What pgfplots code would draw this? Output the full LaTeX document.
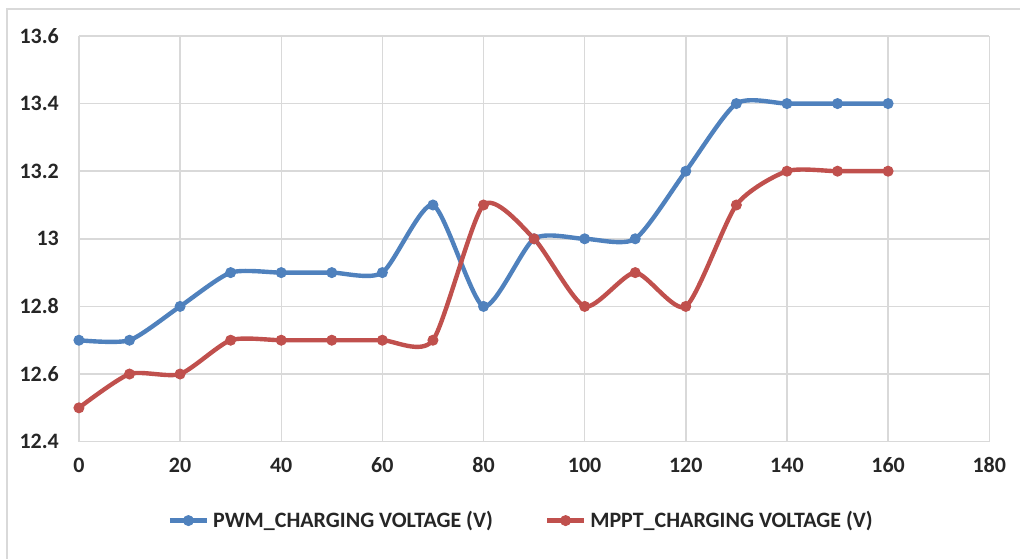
\documentclass[border=0pt]{standalone}
\usepackage{pgfplots}
\pgfplotsset{compat=1.18}
\usepackage{fontspec}
\setmainfont{Carlito}
\definecolor{pwm}{HTML}{4F81BD}
\definecolor{mppt}{HTML}{C0504D}
\definecolor{gridc}{HTML}{D9D9D9}
\begin{document}
\begin{tikzpicture}
\path (-39.5pt,-58.5pt) rectangle (471pt,221pt);
\draw[gridc, line width=0.8pt] (-36pt,-58.5pt) -- (-36pt,216.5pt) -- (471pt,216.5pt);
\begin{axis}[
  at={(0,0)}, anchor=origin,
  scale only axis, width=455.5pt, height=203pt,
  xmin=0, xmax=180, ymin=12.4, ymax=13.6,
  xtick={0,20,...,180}, ytick={12.4,12.6,...,13.6},
  yticklabels={12.4,12.6,12.8,13,13.2,13.4,13.6},
  xticklabels={0,20,40,60,80,100,120,140,160,180},
  grid=major, major grid style={gridc, line width=0.7pt},
  axis line style={gridc, line width=0.7pt},
  axis x line*=bottom, axis y line*=left,
  major tick length=0pt,
  ticklabel style={font=\fontsize{11}{13}\selectfont\bfseries, text=black!85},
  xticklabel style={yshift=-4.5pt},
  yticklabel style={xshift=-6.5pt},
  legend style={at={(0.487,0)}, anchor=center, yshift=-39.5pt, draw=none, fill=none,
    font=\fontsize{11}{13}\selectfont\bfseries, text=black!85,
    /tikz/every even column/.append style={column sep=24pt},
    inner sep=0pt},
  legend columns=2,
  legend image code/.code={\draw[#1] (0pt,0pt) -- (18.5pt,0pt); \draw[#1, mark repeat=1] plot coordinates {(9.25pt,0pt)};},
]
\addplot[pwm, line width=2.2pt, smooth, tension=0.4, mark=*, mark size=2.5pt, mark options={solid, fill=pwm, draw=pwm, line width=0.5pt}] coordinates {
(0,12.7) (10,12.7) (20,12.8) (30,12.9) (40,12.9) (50,12.9) (60,12.9) (70,13.1) (80,12.8) (90,13.0) (100,13.0) (110,13.0) (120,13.2) (130,13.4) (140,13.4) (150,13.4) (160,13.4)};
\addlegendentry{PWM\_CHARGING VOLTAGE (V)}
\addplot[mppt, line width=2.2pt, smooth, tension=0.4, mark=*, mark size=2.5pt, mark options={solid, fill=mppt, draw=mppt, line width=0.5pt}] coordinates {
(0,12.5) (10,12.6) (20,12.6) (30,12.7) (40,12.7) (50,12.7) (60,12.7) (70,12.7) (80,13.1) (90,13.0) (100,12.8) (110,12.9) (120,12.8) (130,13.1) (140,13.2) (150,13.2) (160,13.2)};
\addlegendentry{MPPT\_CHARGING VOLTAGE (V)}
\end{axis}
\end{tikzpicture}
\end{document}
